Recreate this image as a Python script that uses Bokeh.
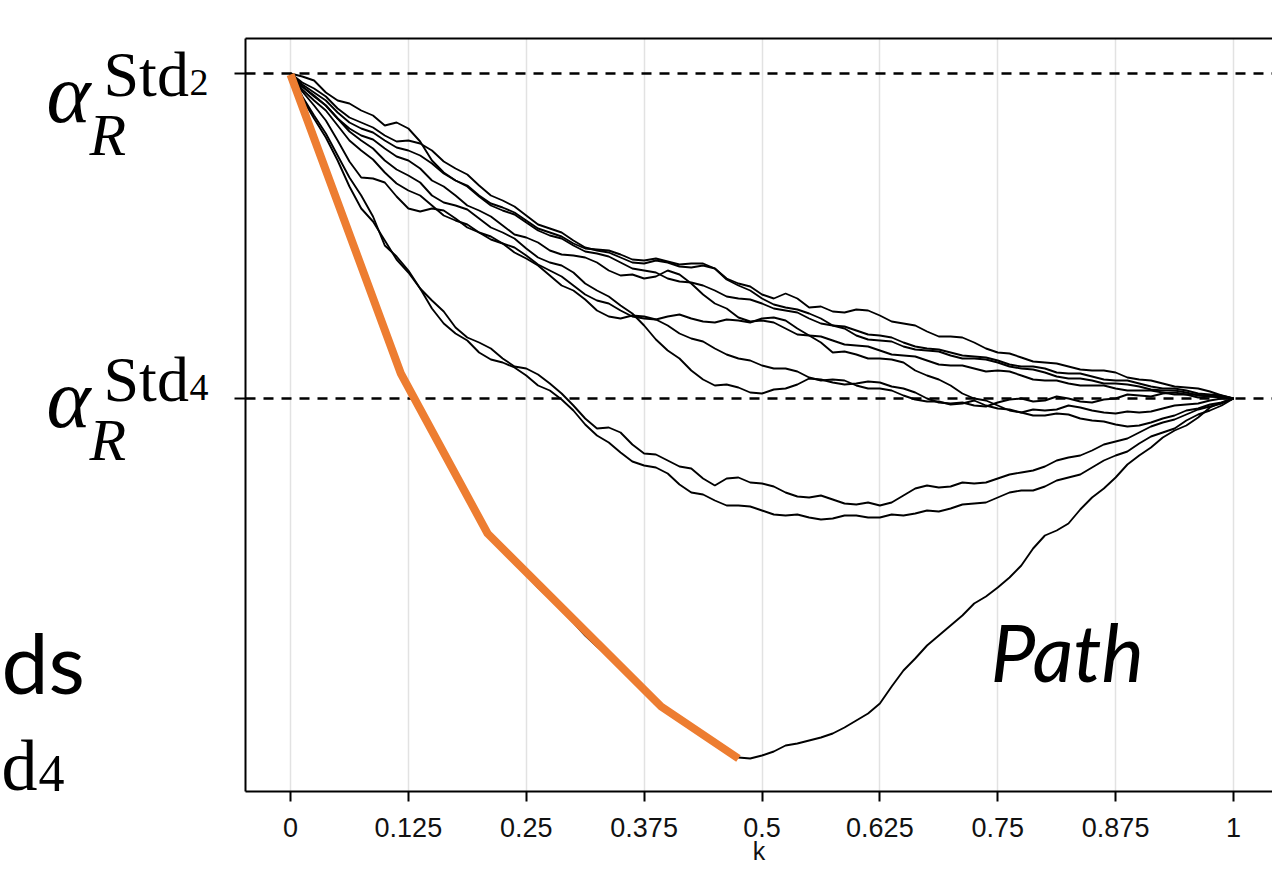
from bokeh.plotting import figure
from bokeh.layouts import row
from bokeh.models import Label, Span, LinearAxis, FixedTicker, Range1d, CustomJSTickFormatter
from bokeh.core.properties import value
from bokeh.embed import file_html
from bokeh.resources import INLINE

# ---------------- data ----------------
STD2 = 3.25   # level of alpha_R^{Std2}
STD4 = 0.0    # level of alpha_R^{Std4}

k = [0.0, 0.0125, 0.025, 0.0375, 0.05, 0.0625, 0.075, 0.0875, 0.1, 0.1125,
     0.125, 0.1375, 0.15, 0.1625, 0.175, 0.1875, 0.2, 0.2125, 0.225, 0.2375,
     0.25, 0.2625, 0.275, 0.2875, 0.3, 0.3125, 0.325, 0.3375, 0.35, 0.3625,
     0.375, 0.3875, 0.4, 0.4125, 0.425, 0.4375, 0.45, 0.4625, 0.475, 0.4875,
     0.5, 0.5125, 0.525, 0.5375, 0.55, 0.5625, 0.575, 0.5875, 0.6, 0.6125,
     0.625, 0.6375, 0.65, 0.6625, 0.675, 0.6875, 0.7, 0.7125, 0.725, 0.7375,
     0.75, 0.7625, 0.775, 0.7875, 0.8, 0.8125, 0.825, 0.8375, 0.85, 0.8625,
     0.875, 0.8875, 0.9, 0.9125, 0.925, 0.9375, 0.95, 0.9625, 0.975, 0.9875,
     1.0]

up1 = [3.25, 3.22, 3.18, 3.06, 2.98, 2.95, 2.88, 2.83, 2.73, 2.76,
       2.70, 2.57, 2.38, 2.26, 2.18, 2.13, 2.03, 1.95, 1.91, 1.86,
       1.78, 1.70, 1.66, 1.62, 1.55, 1.50, 1.49, 1.48, 1.44, 1.39,
       1.38, 1.40, 1.37, 1.34, 1.35, 1.35, 1.30, 1.20, 1.15, 1.12,
       1.04, 1.00, 1.05, 1.00, 0.91, 0.92, 0.87, 0.86, 0.89, 0.88,
       0.83, 0.77, 0.75, 0.73, 0.67, 0.62, 0.62, 0.61, 0.56, 0.50,
       0.46, 0.45, 0.41, 0.37, 0.36, 0.35, 0.32, 0.29, 0.28, 0.28,
       0.26, 0.21, 0.19, 0.18, 0.15, 0.12, 0.11, 0.10, 0.07, 0.03,
       0.00]
up2 = [3.25, 3.16, 3.10, 3.02, 2.90, 2.81, 2.76, 2.71, 2.63, 2.57,
       2.58, 2.55, 2.48, 2.37, 2.30, 2.24, 2.13, 2.03, 1.98, 1.92,
       1.83, 1.74, 1.70, 1.66, 1.58, 1.51, 1.48, 1.46, 1.41, 1.36,
       1.35, 1.38, 1.36, 1.32, 1.31, 1.33, 1.30, 1.19, 1.13, 1.08,
       1.00, 0.94, 0.91, 0.89, 0.85, 0.80, 0.73, 0.72, 0.68, 0.64,
       0.63, 0.61, 0.56, 0.52, 0.50, 0.49, 0.46, 0.43, 0.42, 0.41,
       0.38, 0.34, 0.32, 0.32, 0.30, 0.26, 0.25, 0.25, 0.22, 0.19,
       0.18, 0.18, 0.15, 0.12, 0.10, 0.10, 0.08, 0.05, 0.04, 0.03,
       0.00]
up3 = [3.25, 3.14, 3.06, 2.98, 2.86, 2.76, 2.70, 2.66, 2.58, 2.51,
       2.48, 2.43, 2.35, 2.25, 2.18, 2.12, 2.02, 1.93, 1.88, 1.84,
       1.76, 1.68, 1.63, 1.60, 1.53, 1.47, 1.45, 1.42, 1.36, 1.30,
       1.28, 1.26, 1.20, 1.17, 1.16, 1.13, 1.08, 1.02, 1.00, 0.99,
       0.95, 0.90, 0.88, 0.86, 0.80, 0.75, 0.73, 0.70, 0.63, 0.59,
       0.58, 0.57, 0.52, 0.49, 0.48, 0.47, 0.43, 0.40, 0.40, 0.39,
       0.36, 0.32, 0.30, 0.29, 0.26, 0.22, 0.20, 0.20, 0.18, 0.15,
       0.15, 0.14, 0.12, 0.09, 0.08, 0.08, 0.06, 0.03, 0.03, 0.02,
       0.00]
up4 = [3.25, 3.12, 3.02, 2.93, 2.80, 2.70, 2.63, 2.59, 2.50, 2.42,
       2.38, 2.30, 2.18, 2.12, 2.03, 1.93, 1.88, 1.82, 1.73, 1.64,
       1.61, 1.56, 1.48, 1.44, 1.43, 1.41, 1.36, 1.28, 1.23, 1.24,
       1.20, 1.22, 1.28, 1.24, 1.15, 1.04, 0.95, 0.90, 0.81, 0.77,
       0.78, 0.76, 0.70, 0.64, 0.63, 0.62, 0.58, 0.54, 0.53, 0.52,
       0.48, 0.44, 0.43, 0.42, 0.38, 0.34, 0.33, 0.33, 0.30, 0.27,
       0.28, 0.27, 0.23, 0.19, 0.18, 0.18, 0.15, 0.13, 0.13, 0.13,
       0.10, 0.08, 0.08, 0.08, 0.06, 0.04, 0.04, 0.04, 0.02, 0.01,
       0.00]
mid1 = [3.25, 3.12, 3.03, 2.93, 2.80, 2.67, 2.58, 2.50, 2.38, 2.29,
        2.23, 2.16, 2.03, 1.96, 1.93, 1.89, 1.80, 1.71, 1.66, 1.60,
        1.50, 1.41, 1.36, 1.33, 1.26, 1.15, 1.08, 1.02, 0.93, 0.85,
        0.73, 0.59, 0.48, 0.40, 0.28, 0.19, 0.13, 0.14, 0.11, 0.06,
        0.05, 0.09, 0.10, 0.14, 0.20, 0.19, 0.16, 0.14, 0.15, 0.17,
        0.16, 0.12, 0.10, 0.06, 0.00, -0.04, -0.05, -0.04, -0.07, -0.08,
        -0.04, -0.01, 0.00, -0.03, -0.02, 0.02, 0.00, -0.03, -0.04, -0.01,
        0.00, 0.04, 0.03, 0.02, 0.05, 0.06, 0.04, 0.01, 0.02, 0.02,
        0.00]
mid2 = [3.25, 3.09, 2.98, 2.88, 2.73, 2.58, 2.48, 2.39, 2.26, 2.15,
        2.08, 2.03, 1.93, 1.83, 1.78, 1.74, 1.66, 1.59, 1.55, 1.51,
        1.43, 1.34, 1.28, 1.22, 1.13, 1.04, 0.98, 0.95, 0.88, 0.82,
        0.80, 0.79, 0.73, 0.65, 0.60, 0.57, 0.50, 0.44, 0.40, 0.38,
        0.33, 0.30, 0.30, 0.27, 0.21, 0.18, 0.19, 0.18, 0.13, 0.10,
        0.10, 0.08, 0.03, -0.01, -0.03, -0.03, -0.06, -0.05, -0.02, -0.07,
        -0.10, -0.11, -0.14, -0.17, -0.17, -0.15, -0.16, -0.20, -0.22, -0.23,
        -0.26, -0.28, -0.27, -0.24, -0.20, -0.17, -0.12, -0.10, -0.06, -0.04,
        0.00]
mid3 = [3.25, 3.07, 2.93, 2.78, 2.58, 2.37, 2.21, 2.20, 2.16, 2.02,
        1.90, 1.87, 1.90, 1.88, 1.80, 1.71, 1.66, 1.62, 1.55, 1.46,
        1.40, 1.33, 1.23, 1.13, 1.08, 0.99, 0.88, 0.82, 0.80, 0.83,
        0.82, 0.79, 0.82, 0.84, 0.80, 0.77, 0.76, 0.79, 0.78, 0.76,
        0.80, 0.81, 0.78, 0.70, 0.63, 0.56, 0.46, 0.47, 0.44, 0.40,
        0.40, 0.39, 0.36, 0.28, 0.23, 0.19, 0.13, 0.05, 0.00, -0.02,
        -0.07, -0.12, -0.14, -0.11, -0.12, -0.11, -0.07, -0.09, -0.12, -0.14,
        -0.15, -0.13, -0.14, -0.13, -0.10, -0.07, -0.06, -0.05, -0.02, 0.00,
        0.00]
low1 = [3.25, 3.02, 2.83, 2.65, 2.43, 2.21, 2.03, 1.82, 1.53, 1.42,
        1.28, 1.10, 0.98, 0.87, 0.71, 0.61, 0.56, 0.50, 0.40, 0.32,
        0.30, 0.24, 0.15, 0.05, -0.07, -0.20, -0.30, -0.29, -0.34, -0.46,
        -0.55, -0.56, -0.62, -0.68, -0.70, -0.80, -0.87, -0.80, -0.79, -0.84,
        -0.85, -0.88, -0.94, -0.98, -0.99, -0.97, -1.01, -1.05, -1.06, -1.04,
        -1.07, -1.04, -0.97, -0.90, -0.87, -0.89, -0.88, -0.84, -0.85, -0.84,
        -0.80, -0.76, -0.74, -0.72, -0.68, -0.62, -0.59, -0.57, -0.52, -0.46,
        -0.43, -0.40, -0.34, -0.28, -0.24, -0.21, -0.16, -0.11, -0.08, -0.05,
        0.00]
low2 = [3.25, 3.00, 2.80, 2.61, 2.38, 2.12, 1.90, 1.77, 1.58, 1.39,
        1.26, 1.10, 0.90, 0.75, 0.65, 0.58, 0.46, 0.39, 0.36, 0.31,
        0.23, 0.13, 0.08, -0.01, -0.12, -0.26, -0.37, -0.44, -0.54, -0.63,
        -0.67, -0.69, -0.75, -0.86, -0.94, -0.96, -1.02, -1.07, -1.07, -1.08,
        -1.12, -1.16, -1.17, -1.16, -1.19, -1.21, -1.20, -1.17, -1.17, -1.19,
        -1.19, -1.16, -1.17, -1.15, -1.12, -1.13, -1.10, -1.06, -1.05, -1.04,
        -0.99, -0.94, -0.92, -0.92, -0.88, -0.82, -0.79, -0.76, -0.69, -0.62,
        -0.57, -0.53, -0.45, -0.38, -0.34, -0.30, -0.22, -0.16, -0.12, -0.07,
        0.00]
path = [3.25, 2.97, 2.67, 2.33, 2.01, 1.69, 1.35, 1.01, 0.68, 0.40,
        0.11, -0.12, -0.34, -0.55, -0.75, -0.98, -1.19, -1.36, -1.51, -1.65,
        -1.76, -1.89, -2.00, -2.12, -2.24, -2.37, -2.48, -2.58, -2.70, -2.82,
        -2.92, -3.01, -3.13, -3.22, -3.29, -3.37, -3.44, -3.52, -3.59, -3.60,
        -3.57, -3.53, -3.47, -3.45, -3.42, -3.39, -3.35, -3.29, -3.22, -3.15,
        -3.05, -2.88, -2.72, -2.60, -2.47, -2.37, -2.27, -2.17, -2.05, -1.98,
        -1.89, -1.79, -1.67, -1.50, -1.37, -1.32, -1.25, -1.11, -0.99, -0.90,
        -0.79, -0.66, -0.57, -0.49, -0.39, -0.32, -0.27, -0.19, -0.09, -0.04,
        0.00]

orange_k = [0.0, 0.117, 0.209, 0.393, 0.475]
orange_y = [3.24, 0.25, -1.35, -3.08, -3.60]

tick_vals = [0, 0.125, 0.25, 0.375, 0.5, 0.625, 0.75, 0.875, 1]
tick_labels = ["0", "0.125", "0.25", "0.375", "0.5", "0.625", "0.75", "0.875", "1"]

W, H = 1272, 872
LEFT_W = 228          # width of the text panel on the left
TOP, BOTTOM = 38, 791  # frame top / bottom in page pixels


# -------------- page pixel -> data helpers --------------
def kx(px):
    return (px - 290) / 943.0


def vy(py):
    return (398 - py) / 100.0


# ---------------- main plot ----------------
p = figure(width=W - LEFT_W, height=H, output_backend="svg", toolbar_location=None,
           x_range=Range1d(kx(245), kx(1272)), y_range=Range1d(vy(BOTTOM), vy(TOP)),
           min_border_left=245 - LEFT_W, min_border_right=0, min_border_top=TOP,
           min_border_bottom=H - BOTTOM)
p.outline_line_color = None

xa = p.xaxis[0]
xa.ticker = FixedTicker(ticks=tick_vals)
xa.major_label_overrides = {v: s for v, s in zip(tick_vals, tick_labels)}
xa.axis_line_width = 2
xa.axis_line_color = "black"
xa.major_tick_out = 10
xa.major_tick_in = 0
xa.major_tick_line_width = 2
xa.major_tick_line_color = "black"
xa.minor_tick_line_color = None
xa.major_label_text_font = "Liberation Sans"
xa.major_label_text_font_size = "27px"
xa.major_label_text_color = "#111111"
xa.major_label_standoff = 16
xa.axis_label = "k"
xa.axis_label_text_font = "Liberation Sans"
xa.axis_label_text_font_size = "25px"
xa.axis_label_text_font_style = "normal"
xa.axis_label_text_color = "#111111"
xa.axis_label_standoff = -3

ya = p.yaxis[0]
ya.ticker = FixedTicker(ticks=[STD4, STD2])
ya.formatter = CustomJSTickFormatter(code="return ''")
ya.axis_line_width = 2
ya.axis_line_color = "black"
ya.major_tick_out = 11
ya.major_tick_in = 0
ya.major_tick_line_width = 2
ya.minor_tick_line_color = None
ya.major_label_standoff = 0

top = LinearAxis(ticker=FixedTicker(ticks=[]), axis_line_width=2, axis_line_color="black",
                 major_tick_line_color=None, minor_tick_line_color=None,
                 major_label_text_font_size="0px")
p.add_layout(top, "above")

p.xgrid.grid_line_color = "#e2e2e2"
p.xgrid.grid_line_width = 1.5
p.ygrid.grid_line_color = None

for lvl in (STD2, STD4):
    p.add_layout(Span(location=lvl, dimension="width", line_color="black",
                      line_width=2.5, line_dash="10 8", level="underlay"))

for ys in (up1, up2, up3, up4, mid1, mid2, mid3, low1, low2, path):
    p.line(k, ys, line_color="black", line_width=1.9)

p.line(orange_k, orange_y, line_color="#ED7D31", line_width=8, line_join="round")

# baseline correction observed for alphabetic text (fraction of font size)
SERIF_OFF = 0.30
SANS_OFF = 0.40

p.add_layout(Label(x=kx(990), y=vy(682 - SANS_OFF * 80), text="Path", text_font="Lato",
                   text_font_size="80px", text_font_style="italic",
                   text_baseline="alphabetic", text_align="left", text_color="black"))

# ---------------- left text panel ----------------
t = figure(width=LEFT_W, height=H, output_backend="svg", toolbar_location=None,
           x_range=Range1d(0, LEFT_W), y_range=Range1d(vy(BOTTOM), vy(TOP)),
           x_axis_location=None, y_axis_location=None,
           min_border_left=0, min_border_right=0, min_border_top=TOP,
           min_border_bottom=H - BOTTOM)
t.outline_line_color = None
t.grid.visible = False


def txt(s, x, base, size, font="Liberation Serif", style="normal", off=SERIF_OFF):
    t.text(x=[x], y=[vy(base - off * size)], text=[s], text_font=value(font),
           text_font_size=value(f"{size}px"), text_font_style=value(style),
           text_align=value("left"), text_baseline=value("alphabetic"),
           text_color="black")


for dy in (0, 305):
    txt("α", 46, 118 + dy, 84, style="italic")
    txt("R", 89, 152 + dy, 60, style="italic")
    txt("Std", 103, 93 + dy, 64)
txt("2", 189, 93, 38)
txt("4", 189, 398, 38)

txt("ds", 1, 695, 84, font="Lato", off=SANS_OFF)
txt("d", 1, 787, 72)
txt("4", 38, 789, 52)

layout = row(t, p)
open("out.html", "w").write(file_html(layout, INLINE))
